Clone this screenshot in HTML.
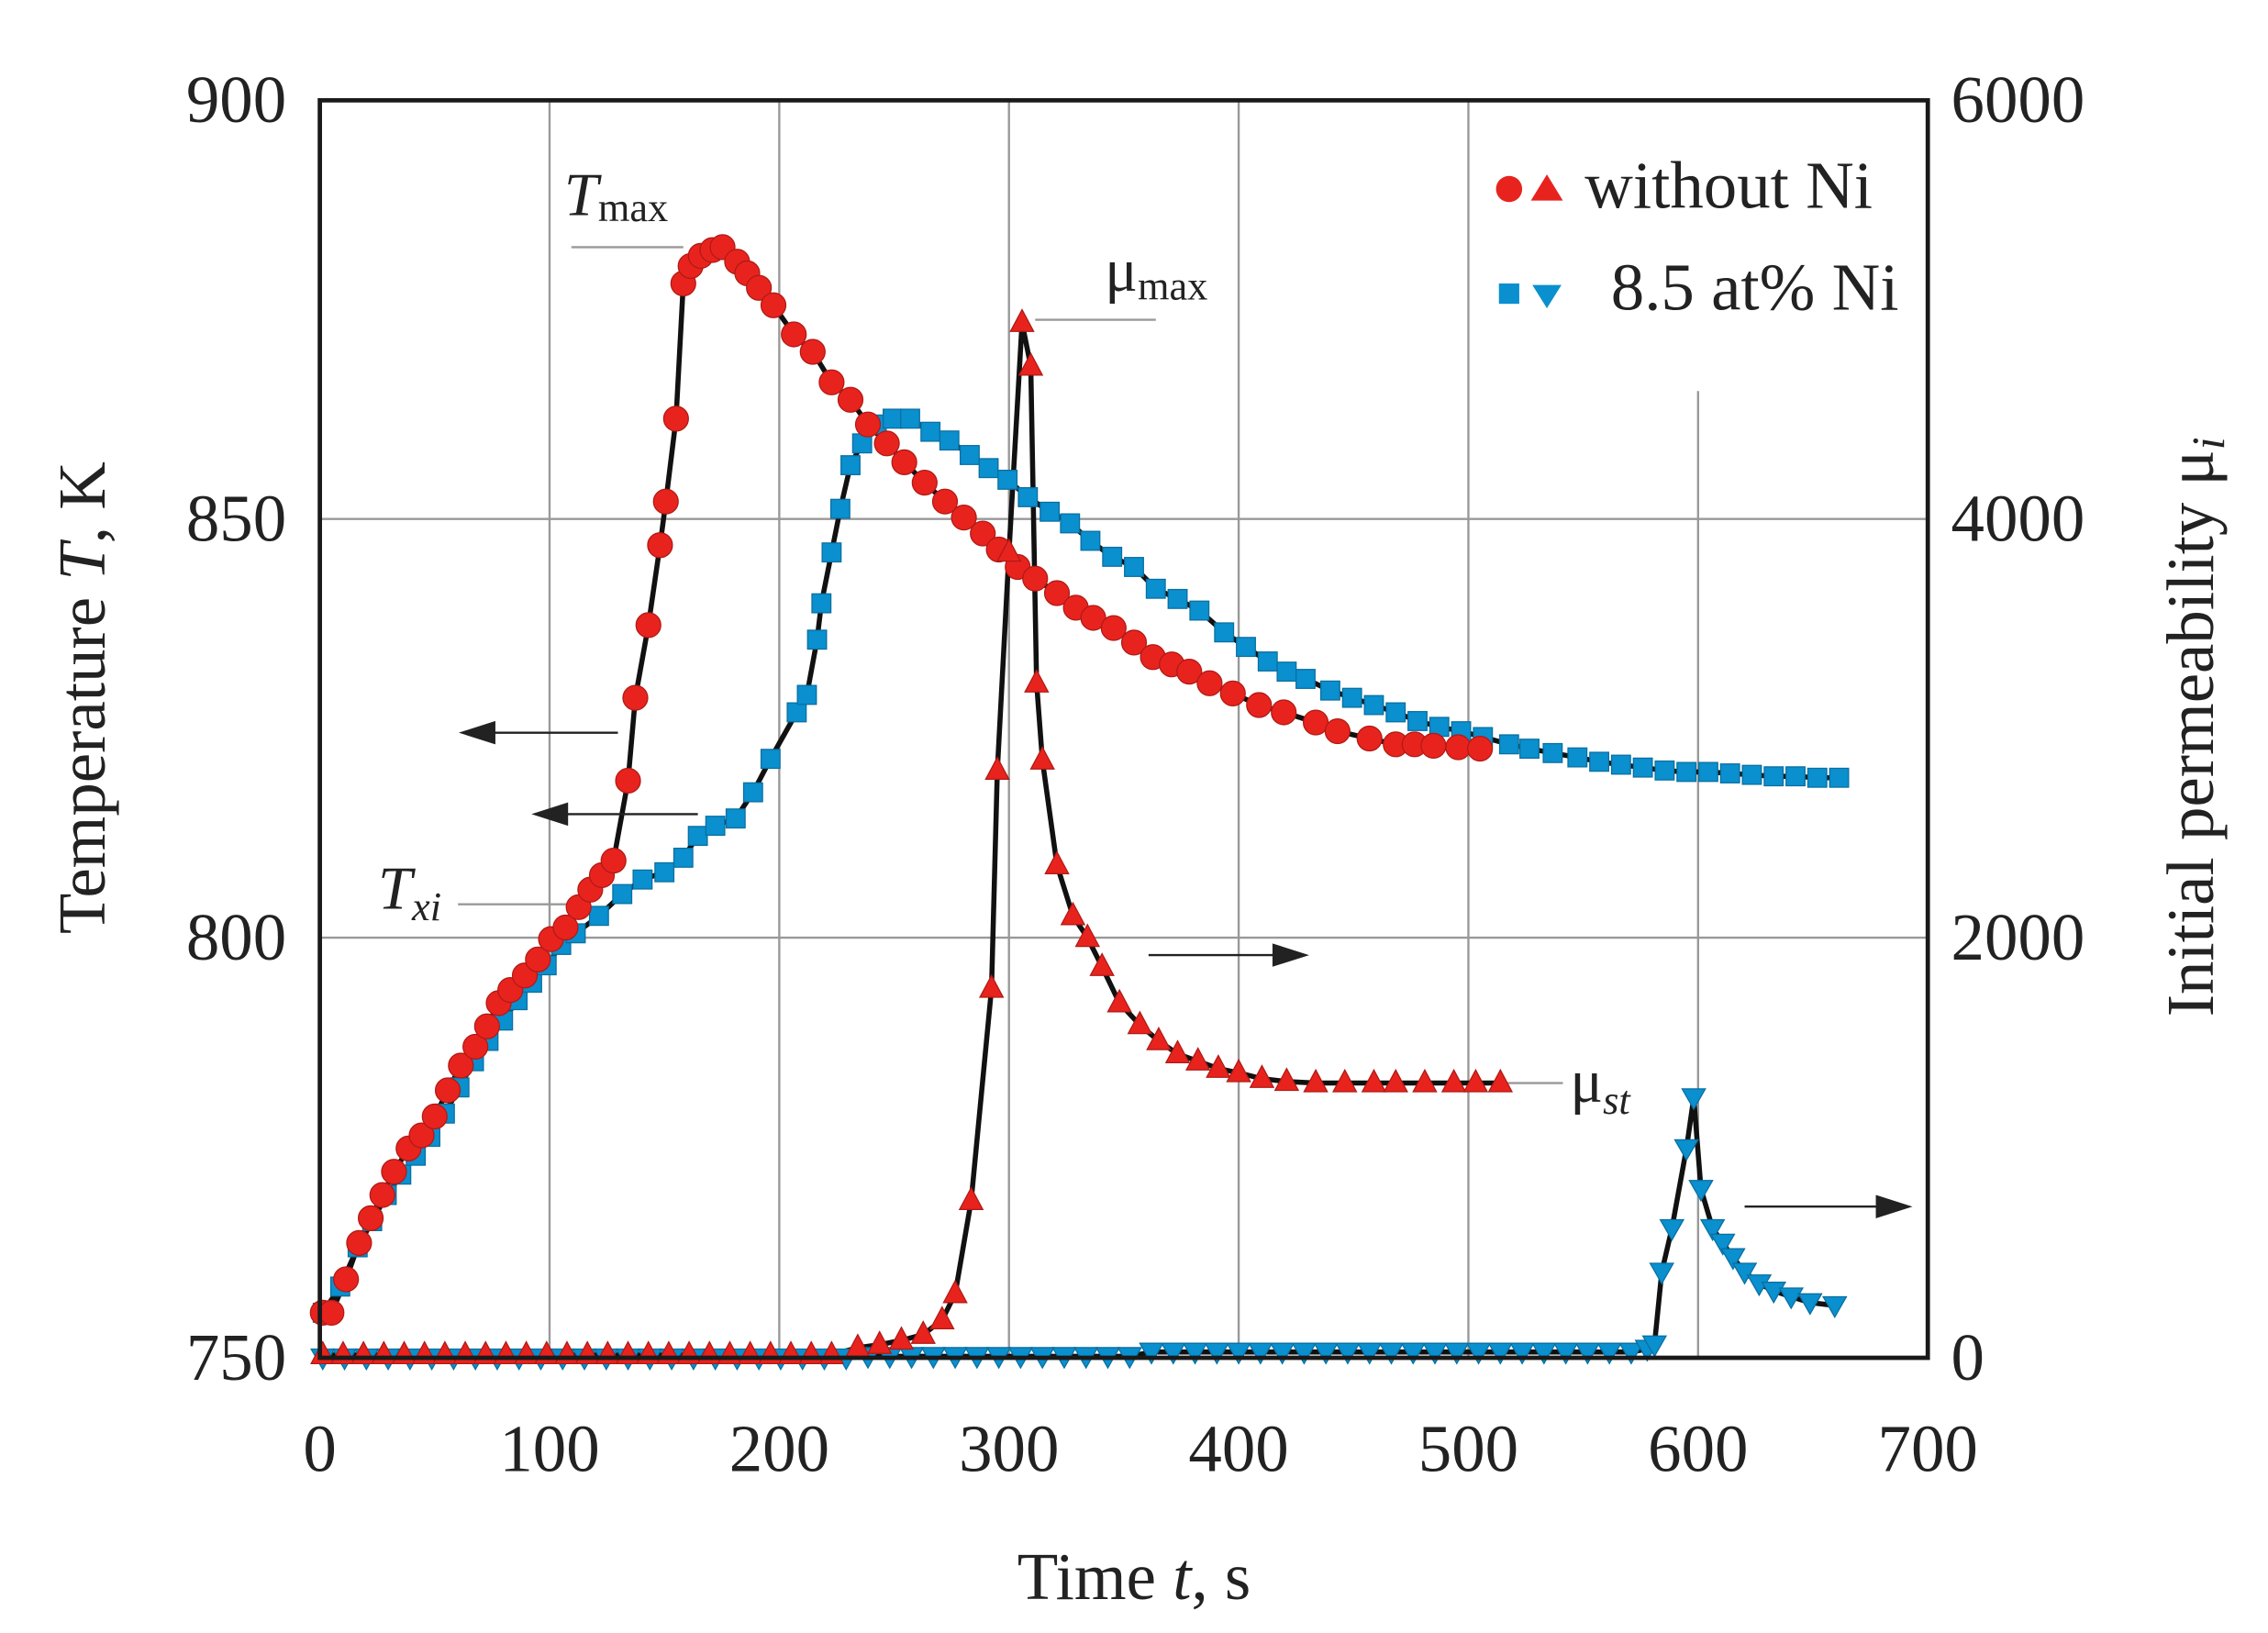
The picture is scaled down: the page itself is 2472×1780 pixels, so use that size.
<!DOCTYPE html>
<html><head><meta charset="utf-8"><style>
html,body{margin:0;padding:0;background:#fff;}
svg{display:block;}
text{font-family:"Liberation Serif",serif;fill:#222;}
</style></head><body>
<svg id="s" width="2472" height="1780" viewBox="0 0 1560 1123.3" xmlns="http://www.w3.org/2000/svg">
<rect x="0" y="0" width="1560" height="1124" fill="#fff"/>
<g stroke="#999" stroke-width="1.5">
<line x1="378" y1="69" x2="378" y2="934"/><line x1="536" y1="69" x2="536" y2="934"/>
<line x1="694" y1="69" x2="694" y2="934"/><line x1="852" y1="69" x2="852" y2="934"/>
<line x1="1010" y1="69" x2="1010" y2="934"/><line x1="1168" y1="269" x2="1168" y2="934"/>
<line x1="220" y1="357" x2="1326" y2="357"/><line x1="220" y1="645" x2="1326" y2="645"/>
<line x1="393" y1="170" x2="470" y2="170"/><line x1="315" y1="622" x2="405" y2="622"/>
<line x1="712" y1="220" x2="795" y2="220"/><line x1="1035" y1="745" x2="1075" y2="745"/>
</g>
<g id="curves"></g>
<g id="marks"></g>
<rect x="220" y="69" width="1106" height="865" fill="none" stroke="#1a1a1a" stroke-width="3"/>
<g stroke="#222" stroke-width="1.5" fill="#222">
<line x1="335" y1="504" x2="425" y2="504"/><polygon points="318,504 340,497 340,511"/>
<line x1="385" y1="560" x2="480" y2="560"/><polygon points="368,560 390,553 390,567"/>
<line x1="790" y1="657" x2="880" y2="657"/><polygon points="898,657 876,650 876,664"/>
<line x1="1200" y1="830" x2="1295" y2="830"/><polygon points="1313,830 1291,823 1291,837"/>
</g>
<g font-size="46">
<text x="197" y="84" text-anchor="end">900</text>
<text x="197" y="372" text-anchor="end">850</text>
<text x="197" y="660" text-anchor="end">800</text>
<text x="197" y="949" text-anchor="end">750</text>
<text x="1342" y="84">6000</text>
<text x="1342" y="372">4000</text>
<text x="1342" y="660">2000</text>
<text x="1342" y="949">0</text>
<g text-anchor="middle">
<text x="220" y="1012">0</text><text x="378" y="1012">100</text><text x="536" y="1012">200</text>
<text x="694" y="1012">300</text><text x="852" y="1012">400</text><text x="1010" y="1012">500</text>
<text x="1168" y="1012">600</text><text x="1326" y="1012">700</text>
</g>
<text x="780" y="1100" text-anchor="middle">Time <tspan font-style="italic">t</tspan>, s</text>
<text transform="translate(72,480) rotate(-90)" text-anchor="middle">Temperature <tspan font-style="italic">T</tspan>, K</text>
<text transform="translate(1522,500) rotate(-90)" text-anchor="middle">Initial permeability μ<tspan font-style="italic" font-size="32" dy="8">i</tspan></text>
<text x="1090" y="143">without Ni</text>
<text x="1108" y="213">8.5 at% Ni</text>
</g>
<g font-size="42">
<text x="388" y="148" font-style="italic">T<tspan font-style="normal" font-size="28" dy="4">max</tspan></text>
<text x="760" y="200">μ<tspan font-size="28" dy="6">max</tspan></text>
<text x="260" y="625" font-style="italic">T<tspan font-size="28" dy="8">xi</tspan></text>
<text x="1080" y="758">μ<tspan font-size="28" font-style="italic" dy="8">st</tspan></text>
</g>
<circle cx="1038" cy="130" r="9" fill="#e8231e"/>
<polygon points="1064,120 1053,138 1075,138" fill="#e8231e"/>
<rect x="1031" y="195" width="14" height="14" fill="#0a8fcf"/>
<polygon points="1054,196 1074,196 1064,212" fill="#0a8fcf"/>
</svg>
<script>
var R=[[222,903],[228,903],[238,880],[247,855],[255,838],[263,822],[271,806],[281,790],[290,781],[299,768],[308,750],[317,733],[327,720],[335,706],[343,690],[351,681],[361,671],[370,660],[379,646],[389,638],[398,624],[406,612],[414,602],[422,592],[432,537],[437,480],[446,430],[454,375],[458,345],[465,288],[470,195],[475,183],[482,176],[490,172],[497,170],[507,180],[514,188],[522,198],[532,210],[546,230],[559,242],[572,263],[585,275],[597,292],[610,305],[622,318],[636,332],[650,345],[663,356],[676,367],[687,378],[700,390],[712,398],[727,408],[740,418],[752,425],[766,432],[780,442],[793,452],[806,457],[818,462],[832,470],[848,477],[866,485],[883,490],[905,497],[920,503],[942,508],[960,512],[973,512],[986,513],[1003,514],[1018,515]];
var B=[[222,903],[234,885],[246,858],[256,840],[266,822],[276,808],[286,795],[296,782],[306,766],[316,748],[326,730],[336,716],[346,702],[356,688],[366,676],[376,664],[386,650],[396,642],[412,630],[428,615],[442,605],[457,600],[470,590],[480,575],[492,568],[506,563],[518,545],[530,522],[548,490],[555,478],[562,440],[565,415],[572,380],[578,350],[585,320],[593,305],[603,292],[614,288],[626,288],[640,297],[653,303],[667,313],[680,322],[693,330],[707,342],[722,352],[736,360],[750,372],[765,383],[780,390],[795,405],[810,412],[825,420],[842,435],[857,445],[872,455],[885,462],[898,467],[915,475],[930,480],[945,485],[960,490],[975,496],[990,500],[1005,503],[1020,507],[1038,512],[1052,515],[1068,518],[1085,521],[1100,524],[1115,526],[1130,528],[1145,530],[1160,531],[1175,531],[1190,532],[1205,533],[1220,534],[1235,534],[1250,535],[1265,535]];
var RT=[];for(var x=222;x<585;x+=14)RT.push([x,932]);
RT=RT.concat([[590,927],[605,925],[620,922],[635,918],[648,908],[657,890],[668,826],[682,680],[686,530],[694,380],[703,222],[709,252],[713,470],[717,523],[727,595],[738,630],[748,645],[758,665],[770,690],[784,705],[797,716],[810,725],[824,730],[838,735],[852,738],[868,742],[885,744],[905,745],[925,745],[945,745],[960,745],[980,745],[1000,745],[1015,745],[1032,745]]);
var BT=[];for(var x=222;x<1130;x+=15)BT.push([x,x<590?934:(x<790?933:930)]);
BT=BT.concat([[1133,928],[1138,925],[1143,875],[1150,845],[1160,790],[1165,755],[1170,818],[1178,845],[1185,855],[1192,865],[1200,875],[1210,883],[1220,888],[1232,892],[1245,896],[1262,898]]);
var NS="http://www.w3.org/2000/svg",cv=document.getElementById('curves'),mk=document.getElementById('marks');
function line(p){var e=document.createElementNS(NS,'polyline');e.setAttribute('points',p.map(function(a){return a.join(',')}).join(' '));e.setAttribute('fill','none');e.setAttribute('stroke','#111');e.setAttribute('stroke-width','3.5');e.setAttribute('stroke-linejoin','round');cv.appendChild(e);}
[R,B,RT,BT].forEach(line);
function add(tag,attrs){var e=document.createElementNS(NS,tag);for(var k in attrs)e.setAttribute(k,attrs[k]);mk.appendChild(e);}
B.forEach(function(p){add('rect',{x:p[0]-6.5,y:p[1]-6.5,width:13,height:13,fill:'#0a8fcf',stroke:'#0a6f9f','stroke-width':0.8});});
R.forEach(function(p){add('circle',{cx:p[0],cy:p[1],r:8.5,fill:'#e8231e',stroke:'#b01a15','stroke-width':0.8});});
BT.forEach(function(p){var x=p[0],y=p[1];add('polygon',{points:(x-8)+','+(y-6)+' '+(x+8)+','+(y-6)+' '+x+','+(y+8),fill:'#0a8fcf',stroke:'#0a6f9f','stroke-width':0.8});});
RT.forEach(function(p){var x=p[0],y=p[1];add('polygon',{points:x+','+(y-9)+' '+(x-8)+','+(y+6)+' '+(x+8)+','+(y+6),fill:'#e8231e',stroke:'#b01a15','stroke-width':0.8});});
</script>
</body></html>
